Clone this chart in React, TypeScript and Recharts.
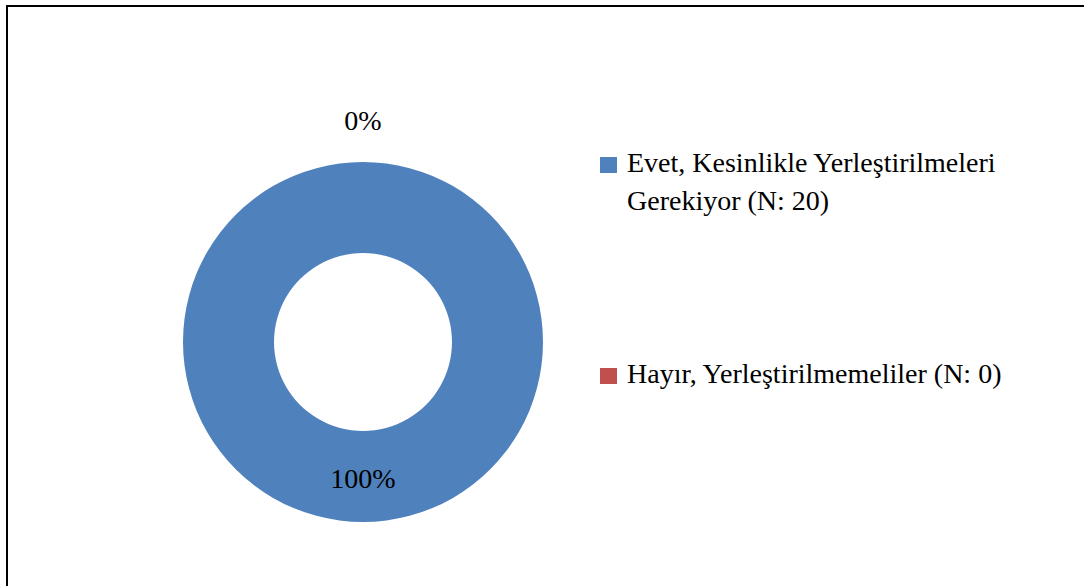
import { PieChart, Pie, Cell, Legend } from "recharts";

const categories = [
  "Evet, Kesinlikle Yerleştirilmeleri Gerekiyor (N: 20)",
  "Hayır, Yerleştirilmemeliler (N: 0)",
];
const counts = [20, 0];
const COLORS = ["#4F81BD", "#C0504D"];

const data = categories.map((name, i) => ({ name, value: counts[i] }));

const FONT = "serif";
const FONT_SIZE = 28;
const RAD = Math.PI / 180;

const CX = 363;
const CY = 342;
const INNER = 89;
const OUTER = 180;

const renderLabel = (props: any) => {
  const { cx, cy, midAngle, innerRadius, outerRadius, percent, value } = props;
  const r = value > 0 ? (innerRadius + outerRadius) / 2 + 2 : outerRadius + 42;
  const x = cx + r * Math.cos(-midAngle * RAD);
  const y = cy + r * Math.sin(-midAngle * RAD);
  return (
    <text
      x={x}
      y={y}
      fill="#000"
      textAnchor="middle"
      dominantBaseline="central"
      style={{ fontFamily: FONT, fontSize: FONT_SIZE }}
    >
      {`${Math.round(percent * 100)}%`}
    </text>
  );
};

const renderLegend = () => (
  <div style={{ fontFamily: FONT, fontSize: FONT_SIZE, lineHeight: "38px", color: "#000" }}>
    {data.map((d, i) => (
      <div
        key={d.name}
        style={{ display: "flex", alignItems: "flex-start", marginBottom: i === 0 ? 135 : 0 }}
      >
        <div
          style={{
            width: 17,
            height: 16,
            background: COLORS[i],
            marginTop: 13,
            marginRight: 10,
            flexShrink: 0,
          }}
        />
        <div style={{ width: 445 }}>{d.name}</div>
      </div>
    ))}
  </div>
);

export default function App() {
  return (
    <div>
      <div
        style={{
          position: "absolute",
          left: 6,
          top: 5,
          width: 1076,
          height: 600,
          borderTop: "2px solid #000",
          borderLeft: "2px solid #000",
        }}
      />
      <div style={{ position: "absolute", left: 0, top: 0 }}>
        <PieChart width={1090} height={586} margin={{ top: 0, right: 0, bottom: 0, left: 0 }}>
          <Pie
            data={data}
            dataKey="value"
            nameKey="name"
            cx={CX}
            cy={CY}
            innerRadius={INNER}
            outerRadius={OUTER}
            startAngle={90}
            endAngle={-270}
            stroke="none"
            label={renderLabel}
            labelLine={false}
            isAnimationActive={false}
          >
            {data.map((_, i) => (
              <Cell key={i} fill={COLORS[i]} />
            ))}
          </Pie>
          <Legend
            content={renderLegend}
            wrapperStyle={{ position: "absolute", left: 600, top: 144, width: 480 }}
          />
        </PieChart>
      </div>
    </div>
  );
}
